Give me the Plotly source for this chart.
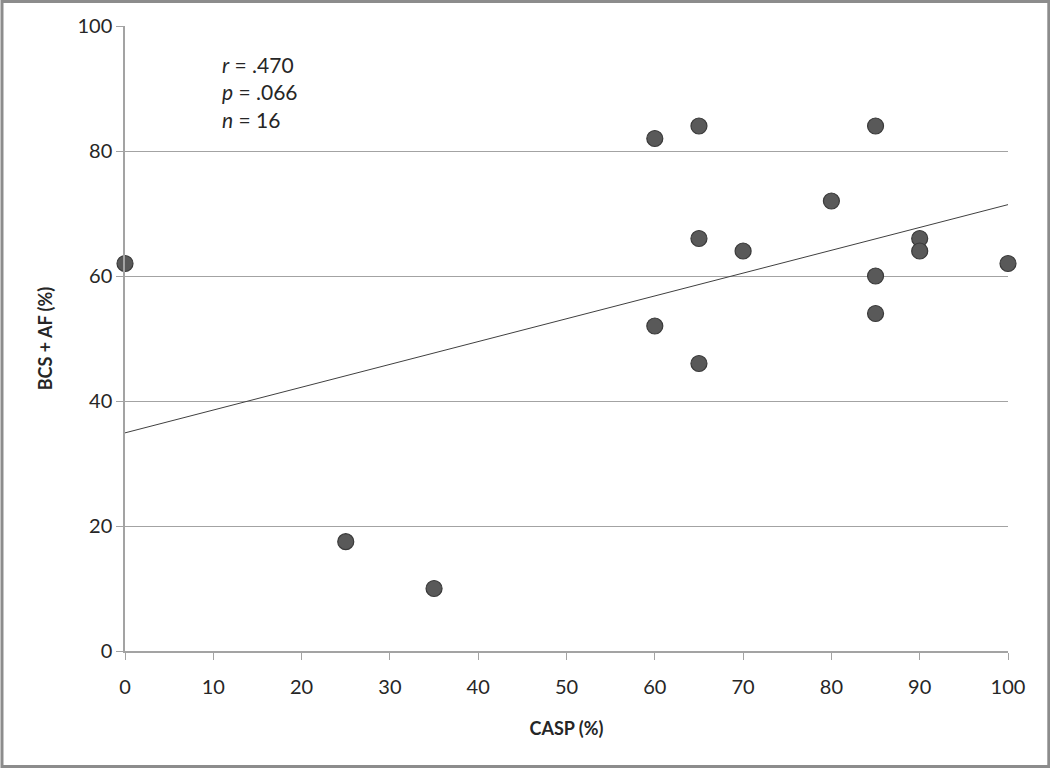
import numpy as np
import plotly.graph_objects as go

# CASP (%) vs BCS + AF (%)
casp = [0, 25, 35, 60, 60, 65, 65, 65, 70, 80, 85, 85, 85, 90, 90, 100]
bcs_af = [62, 17.5, 10, 82, 52, 84, 66, 46, 64, 72, 84, 60, 54, 66, 64, 62]
x_ticks = [0, 10, 20, 30, 40, 50, 60, 70, 80, 90, 100]
y_ticks = [0, 20, 40, 60, 80, 100]

FONT = "Lato, 'Open Sans', sans-serif"
GRID = "#a3a3a3"

# linear trend line
slope, icpt = np.polyfit(casp, bcs_af, 1)
line_x = np.array([0, 100])
line_y = slope * line_x + icpt

fig = go.Figure()
fig.add_trace(go.Scatter(
    x=line_x, y=line_y, mode="lines",
    line=dict(color="#404040", width=1),
    hoverinfo="skip", showlegend=False,
))
fig.add_trace(go.Scatter(
    x=casp, y=bcs_af, mode="markers",
    marker=dict(size=16, color="#595959", line=dict(color="#3a3a3a", width=1.2)),
    cliponaxis=False, showlegend=False,
))

fig.add_annotation(
    x=10.8, y=96.2, xref="x", yref="y", xanchor="left", yanchor="top",
    text="<i>r</i> = .470<br><i>p</i> = .066<br><i>n</i> = 16",
    showarrow=False, align="left",
    font=dict(family=FONT, size=21, color="#262626"),
)

# outer chart border
fig.add_shape(type="rect", xref="paper", yref="paper",
              x0=-0.1393, x1=1.0462, y0=-0.1848, y1=1.0392,
              line=dict(color="#8c8c8c", width=3), layer="above")

fig.update_layout(
    width=1050, height=768,
    margin=dict(l=125, r=42, t=26, b=117),
    paper_bgcolor="white", plot_bgcolor="white",
    font=dict(family=FONT, size=20, color="#262626"),
    xaxis=dict(
        range=[0, 100], tickvals=x_ticks, showgrid=False, zeroline=False,
        ticks="outside", ticklen=7, tickcolor=GRID, ticklabelstandoff=10,
        showline=True, linecolor=GRID, linewidth=1.5,
        title=dict(text="<b>CASP (%)</b>", font=dict(size=18), standoff=26),
    ),
    yaxis=dict(
        range=[0, 100], tickvals=y_ticks, showgrid=True, gridcolor=GRID,
        gridwidth=1, zeroline=False,
        ticks="outside", ticklen=7, tickcolor=GRID,
        showline=True, linecolor=GRID, linewidth=1.5,
        title=dict(text="<b>BCS + AF (%)</b>", font=dict(size=18), standoff=20),
    ),
)

fig.write_html("out.html", config={"displayModeBar": False},
               post_script="document.body.style.margin='0';")
